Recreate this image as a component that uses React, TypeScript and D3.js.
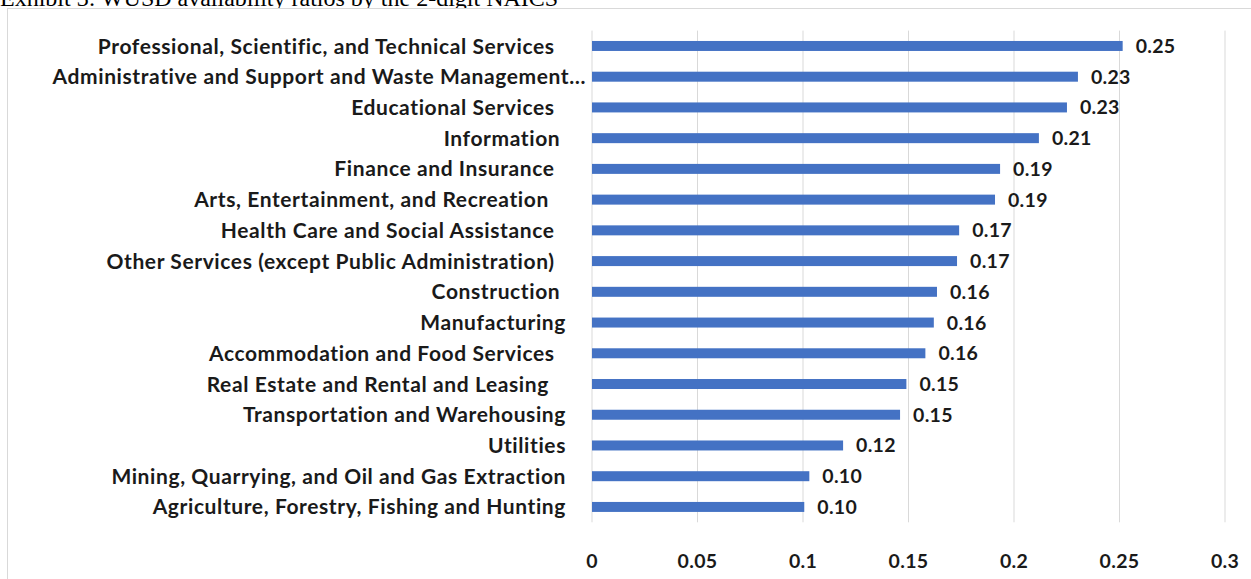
import React from "react";
import * as d3 from "d3";

const title = "Exhibit 3: WUSD availability ratios by the 2-digit NAICS";

const categories = [
  "Professional, Scientific, and Technical Services  ",
  "Administrative and Support and Waste Management…",
  "Educational Services  ",
  "Information ",
  "Finance and Insurance  ",
  "Arts, Entertainment, and Recreation   ",
  "Health Care and Social Assistance  ",
  "Other Services (except Public Administration)  ",
  "Construction ",
  "Manufacturing",
  "Accommodation and Food Services  ",
  "Real Estate and Rental and Leasing   ",
  "Transportation and Warehousing",
  "Utilities",
  "Mining, Quarrying, and Oil and Gas Extraction",
  "Agriculture, Forestry, Fishing and Hunting",
];

const ratios = [
  0.2515, 0.2303, 0.2251, 0.2118, 0.1934, 0.191, 0.174, 0.173, 0.1635, 0.162,
  0.158, 0.149, 0.146, 0.119, 0.103, 0.1006,
];

const xTicks = [0, 0.05, 0.1, 0.15, 0.2, 0.25, 0.3];

const W = 1251;
const H = 579;
const FONT = "Lato, 'Open Sans', sans-serif";

export default function App() {
  const plotTop = 30.6;
  const plotBottom = 522.3;
  const x = d3.scaleLinear().domain([0, 0.3]).range([592, 1225]);
  const y = d3
    .scaleBand<string>()
    .domain(categories)
    .range([plotTop, plotBottom])
    .paddingInner(0.675)
    .paddingOuter(0.3375);
  const fmt = d3.format(".2f");
  const bw = y.bandwidth();

  return (
    <svg
      width={W}
      height={H}
      style={{ position: "absolute", left: 0, top: 0, background: "#fff" }}
    >
      <text
        x={0}
        y={6}
        fontFamily="'Liberation Serif', 'Times New Roman', serif"
        fontSize={24}
        fill="#000"
      >
        {title}
      </text>
      <rect
        x={7.5}
        y={8.5}
        width={1260}
        height={600}
        fill="#fff"
        stroke="#d9d9d9"
        strokeWidth={1}
      />
      {xTicks.map((t) => (
        <line
          key={"g" + t}
          x1={x(t)}
          x2={x(t)}
          y1={plotTop}
          y2={plotBottom}
          stroke="#d9d9d9"
          strokeWidth={1}
        />
      ))}
      {categories.map((c, i) => (
        <rect
          key={"b" + i}
          x={x(0)}
          y={y(c)!}
          width={x(ratios[i]) - x(0)}
          height={bw}
          fill="#4472C4"
        />
      ))}
      {categories.map((c, i) => (
        <text
          key={"v" + i}
          x={x(ratios[i]) + 13}
          y={y(c)! + bw / 2}
          dy="0.36em"
          fontFamily={FONT}
          fontWeight={700}
          fontSize={19.5}
          letterSpacing={0.3}
          fill="#1a1a1a"
        >
          {fmt(ratios[i])}
        </text>
      ))}
      {categories.map((c, i) => (
        <text
          key={"c" + i}
          x={c.endsWith("…") ? x(0) - 6 : x(0) - 26}
          y={y(c)! + bw / 2}
          dy="0.36em"
          textAnchor="end"
          fontFamily={FONT}
          fontWeight={700}
          fontSize={21}
          letterSpacing={0.6}
          fill="#1a1a1a"
          style={{ whiteSpace: "pre" }}
        >
          {c}
        </text>
      ))}
      {xTicks.map((t) => (
        <text
          key={"t" + t}
          x={x(t)}
          y={568}
          textAnchor="middle"
          fontFamily={FONT}
          fontWeight={700}
          fontSize={19.5}
          letterSpacing={0.3}
          fill="#1a1a1a"
        >
          {String(t)}
        </text>
      ))}
    </svg>
  );
}
